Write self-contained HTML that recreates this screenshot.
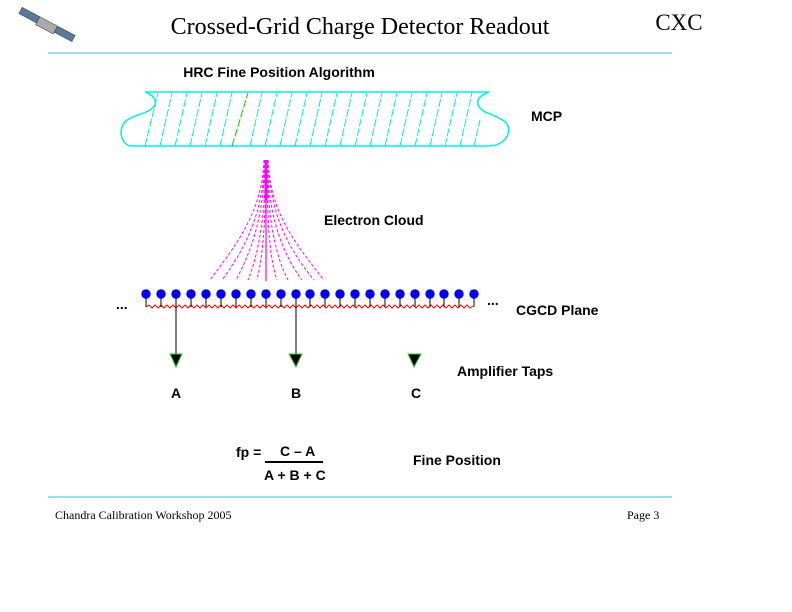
<!DOCTYPE html>
<html><head><meta charset="utf-8"><style>
body{margin:0;background:#fff;}
svg{display:block;}
.s{font-family:"Liberation Sans",sans-serif;font-weight:bold;font-size:14px;fill:#000;}
.t{font-family:"Liberation Serif",serif;fill:#000;}
</style></head><body>
<svg width="792" height="612" viewBox="0 0 792 612" xmlns="http://www.w3.org/2000/svg">
<!-- satellite -->
<g transform="translate(45,24) rotate(28)">
<rect x="-28" y="-4" width="20" height="7" fill="#5a7a9a" stroke="#334" stroke-width="0.5"/>
<rect x="12" y="-4" width="20" height="7" fill="#5a7a9a" stroke="#334" stroke-width="0.5"/>
<rect x="-8" y="-4" width="20" height="9" fill="#aaa" stroke="#333" stroke-width="0.5"/>
</g>
<text class="t" x="360" y="34" font-size="24" text-anchor="middle">Crossed-Grid Charge Detector Readout</text>
<text class="t" x="679" y="30" font-size="23" text-anchor="middle">CXC</text>
<line x1="48" y1="53" x2="672" y2="53" stroke="#7fd0ec" stroke-width="1.5"/>
<text class="s" x="279" y="77" text-anchor="middle">HRC Fine Position Algorithm</text>
<!-- MCP -->
<path d="M145,92 L489,92 C478,96 472,104 485,112 C500,118 512,122 508,134 C505,143 496,146 488,146 L130,146 C120,143 118,128 126,121 C134,114 150,114 155,105 C157,98 150,94 145,92 Z" fill="none" stroke="#00f0f0" stroke-width="1.5"/>
<g stroke="#00e8e8" stroke-width="1" stroke-dasharray="8,2">
<line x1="145" y1="146" x2="158" y2="93"/><line x1="160" y1="146" x2="172" y2="93"/><line x1="175" y1="146" x2="187" y2="93"/><line x1="190" y1="146" x2="202" y2="93"/><line x1="205" y1="146" x2="217" y2="93"/><line x1="220" y1="146" x2="232" y2="93"/>
<line x1="250" y1="146" x2="262" y2="93"/><line x1="265" y1="146" x2="277" y2="93"/><line x1="280" y1="146" x2="292" y2="93"/><line x1="295" y1="146" x2="307" y2="93"/><line x1="310" y1="146" x2="322" y2="93"/><line x1="325" y1="146" x2="337" y2="93"/><line x1="340" y1="146" x2="352" y2="93"/><line x1="355" y1="146" x2="367" y2="93"/><line x1="370" y1="146" x2="382" y2="93"/><line x1="385" y1="146" x2="397" y2="93"/><line x1="400" y1="146" x2="412" y2="93"/><line x1="415" y1="146" x2="427" y2="93"/><line x1="430" y1="146" x2="442" y2="93"/><line x1="445" y1="146" x2="457" y2="93"/><line x1="460" y1="146" x2="472" y2="93"/><line x1="474" y1="146" x2="480" y2="120"/>
</g>
<line x1="232" y1="146" x2="248" y2="93" stroke="#00d000" stroke-width="1" stroke-dasharray="8,2"/>
<text class="s" x="531" y="121">MCP</text>
<!-- electron cloud -->
<g stroke="#ff00ff" stroke-width="1" fill="none" stroke-dasharray="3,2">
<path d="M264,160 C262,210 240,240 210,280"/>
<path d="M265,160 C263,210 248,245 222,280"/>
<path d="M265,160 C264,215 252,250 236,280"/>
<path d="M266,160 C265,220 258,255 248,280"/>
<path d="M266,160 C266,225 262,260 257,280"/>
<path d="M268,160 C270,210 292,240 324,280"/>
<path d="M268,160 C270,210 285,245 314,280"/>
<path d="M267,160 C269,215 280,250 302,280"/>
<path d="M267,160 C268,220 275,255 288,280"/>
<path d="M267,160 C267,225 270,260 277,280"/>
</g>
<line x1="266" y1="160" x2="266" y2="281" stroke="#ff00ff" stroke-width="1.2"/>
<line x1="266" y1="160" x2="266" y2="200" stroke="#ff00ff" stroke-width="3"/>
<text class="s" x="324" y="225">Electron Cloud</text>
<!-- CGCD plane -->
<polyline fill="none" stroke="#ff0000" stroke-width="1" points="146,307 149,305 152,308 155,305 158,308 161,305 164,308 167,305 170,308 173,305 176,308 179,305 182,308 185,305 188,308 191,305 194,308 197,305 200,308 203,305 206,308 209,305 212,308 215,305 218,308 221,305 224,308 227,305 230,308 233,305 236,308 239,305 242,308 245,305 248,308 251,305 254,308 257,305 260,308 263,305 266,308 269,305 272,308 275,305 278,308 281,305 284,308 287,305 290,308 293,305 296,308 299,305 302,308 305,305 308,308 311,305 314,308 317,305 320,308 323,305 326,308 329,305 332,308 335,305 338,308 341,305 344,308 347,305 350,308 353,305 356,308 359,305 362,308 365,305 368,308 371,305 374,308 377,305 380,308 383,305 386,308 389,305 392,308 395,305 398,308 401,305 404,308 407,305 410,308 413,305 416,308 419,305 422,308 425,305 428,308 431,305 434,308 437,305 440,308 443,305 446,308 449,305 452,308 455,305 458,308 461,305 464,308 467,305 470,308 473,306"/>
<g stroke="#000" stroke-width="1">
<line x1="146" y1="294" x2="146" y2="307"/><line x1="161" y1="294" x2="161" y2="307"/><line x1="176" y1="294" x2="176" y2="307"/><line x1="191" y1="294" x2="191" y2="307"/><line x1="206" y1="294" x2="206" y2="307"/><line x1="221" y1="294" x2="221" y2="307"/><line x1="236" y1="294" x2="236" y2="307"/><line x1="251" y1="294" x2="251" y2="307"/><line x1="266" y1="294" x2="266" y2="307"/><line x1="281" y1="294" x2="281" y2="307"/><line x1="296" y1="294" x2="296" y2="307"/><line x1="310" y1="294" x2="310" y2="307"/><line x1="325" y1="294" x2="325" y2="307"/><line x1="340" y1="294" x2="340" y2="307"/><line x1="355" y1="294" x2="355" y2="307"/><line x1="370" y1="294" x2="370" y2="307"/><line x1="385" y1="294" x2="385" y2="307"/><line x1="400" y1="294" x2="400" y2="307"/><line x1="415" y1="294" x2="415" y2="307"/><line x1="430" y1="294" x2="430" y2="307"/><line x1="444" y1="294" x2="444" y2="307"/><line x1="459" y1="294" x2="459" y2="307"/><line x1="474" y1="294" x2="474" y2="307"/>
<line x1="176" y1="307" x2="176" y2="356"/><line x1="296" y1="307" x2="296" y2="356"/>
</g>
<g fill="#0000ee">
<circle cx="146" cy="294" r="4.7"/><circle cx="161" cy="294" r="4.7"/><circle cx="176" cy="294" r="4.7"/><circle cx="191" cy="294" r="4.7"/><circle cx="206" cy="294" r="4.7"/><circle cx="221" cy="294" r="4.7"/><circle cx="236" cy="294" r="4.7"/><circle cx="251" cy="294" r="4.7"/><circle cx="266" cy="294" r="4.7"/><circle cx="281" cy="294" r="4.7"/><circle cx="296" cy="294" r="4.7"/><circle cx="310" cy="294" r="4.7"/><circle cx="325" cy="294" r="4.7"/><circle cx="340" cy="294" r="4.7"/><circle cx="355" cy="294" r="4.7"/><circle cx="370" cy="294" r="4.7"/><circle cx="385" cy="294" r="4.7"/><circle cx="400" cy="294" r="4.7"/><circle cx="415" cy="294" r="4.7"/><circle cx="430" cy="294" r="4.7"/><circle cx="444" cy="294" r="4.7"/><circle cx="459" cy="294" r="4.7"/><circle cx="474" cy="294" r="4.7"/>
</g>
<text class="s" x="116" y="309" font-size="10">...</text>
<text class="s" x="487" y="305" font-size="10">...</text>
<text class="s" x="516" y="315">CGCD Plane</text>
<!-- amplifiers -->
<g fill="#000" stroke="#30d030" stroke-width="1">
<polygon points="170,354 182,354 176,367"/>
<polygon points="289,354 302,354 296,367"/>
<polygon points="408,354 421,354 414,367"/>
</g>
<text class="s" x="457" y="376">Amplifier Taps</text>
<text class="s" x="176" y="398" text-anchor="middle">A</text>
<text class="s" x="296" y="398" text-anchor="middle">B</text>
<text class="s" x="416" y="398" text-anchor="middle">C</text>
<!-- formula -->
<text class="s" x="236" y="457">fp =</text>
<text class="s" x="280" y="456">C – A</text>
<line x1="265" y1="462" x2="323" y2="462" stroke="#000" stroke-width="2"/>
<text class="s" x="264" y="480">A + B + C</text>
<text class="s" x="413" y="465">Fine Position</text>
<line x1="48" y1="497" x2="672" y2="497" stroke="#7fd0ec" stroke-width="1.5"/>
<text class="t" x="55" y="519" font-size="12">Chandra Calibration Workshop 2005</text>
<text class="t" x="627" y="519" font-size="12">Page 3</text>
</svg>
</body></html>
